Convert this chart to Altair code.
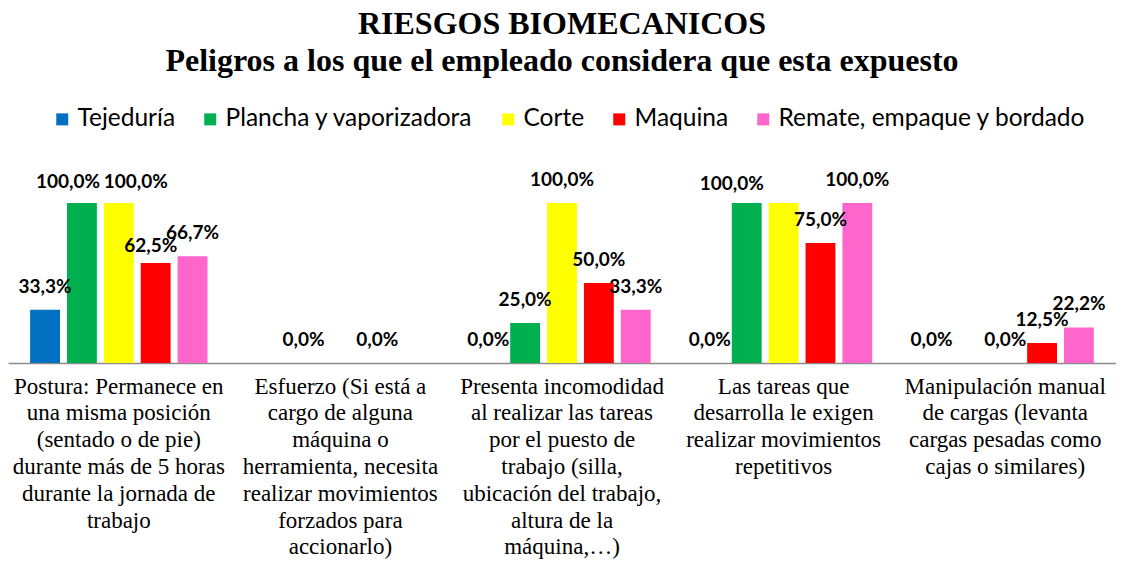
import altair as alt
import pandas as pd

categories = [
    "Postura: Permanece en\nuna misma posición\n(sentado o de pie)\ndurante más de 5 horas\ndurante la jornada de\ntrabajo",
    "Esfuerzo (Si está a\ncargo de alguna\nmáquina o\nherramienta, necesita\nrealizar movimientos\nforzados para\naccionarlo)",
    "Presenta incomodidad\nal realizar las tareas\npor el puesto de\ntrabajo (silla,\nubicación del trabajo,\naltura de la\nmáquina,…)",
    "Las tareas que\ndesarrolla le exigen\nrealizar movimientos\nrepetitivos",
    "Manipulación manual\nde cargas (levanta\ncargas pesadas como\ncajas o similares)",
]

series = ["Tejeduría", "Plancha y vaporizadora", "Corte", "Maquina", "Remate, empaque y bordado"]
colors = ["#0070C0", "#00B050", "#FFFF00", "#FF0000", "#FF66CC"]

tejeduria = [0.333, None, 0.0, 0.0, 0.0]
plancha = [1.0, 0.0, 0.25, 1.0, None]
corte = [1.0, None, 1.0, 1.0, 0.0]
maquina = [0.625, 0.0, 0.5, 0.75, 0.125]
remate = [0.667, None, 0.333, 1.0, 0.222]

# labels shown in the reference (False = bar without label)
corte_label_shown = [True, True, True, False, True]

values = [tejeduria, plancha, corte, maquina, remate]

rows = []
for s, vals in zip(series, values):
    for i, (c, v) in enumerate(zip(categories, vals)):
        if v is None:
            continue
        show = True
        if s == "Corte":
            show = corte_label_shown[i]
        label = (f"{v * 100:.1f}%".replace(".", ",")) if show else ""
        rows.append({"cat": c, "idx": i, "series": s, "value": v, "label": label})
df = pd.DataFrame(rows)

x_enc = alt.X(
    "cat:N",
    sort=categories,
    title=None,
    scale=alt.Scale(paddingInner=0, paddingOuter=0),
    axis=alt.Axis(
        labelExpr="split(datum.label, '\\n')",
        labelAngle=0,
        labelFont="Liberation Serif",
        labelFontSize=23,
        labelLineHeight=26.8,
        labelColor="black",
        labelPadding=12,
        labelLimit=0,
        labelOverlap=False,
        ticks=False,
        domainColor="#8C8C8C",
        domainWidth=1.5,
        grid=False,
    ),
)
xoff = alt.XOffset("series:N", sort=series, scale=alt.Scale(paddingInner=0.19, paddingOuter=0.6))
y_enc = alt.Y("value:Q", scale=alt.Scale(domain=[0, 1]), axis=None)

bars = alt.Chart(df).mark_bar().encode(
    x=x_enc,
    xOffset=xoff,
    y=y_enc,
    color=alt.Color(
        "series:N",
        sort=series,
        scale=alt.Scale(domain=series, range=colors),
        legend=alt.Legend(
            title=None,
            orient="none",
            direction="horizontal",
            legendX=42,
            legendY=-96,
            symbolType="square",
            symbolSize=144,
            symbolStrokeWidth=0,
            labelFont="Lato",
            labelFontSize=24.5,
            labelColor="black",
            labelLimit=0,
            columnPadding=22,
            symbolOffset=0,
            labelOffset=3,
        ),
    ),
)

# label nudges (category index, series, dx, dy) to avoid overlapping labels, as in the reference
nudges = [
    (0, "Plancha y vaporizadora", -14, -21),
    (0, "Corte", 17, -21),
    (0, "Maquina", -5, -17),
    (3, "Plancha y vaporizadora", -15, -19),
]

text_style = dict(font="Lato", fontWeight="bold", fontSize=19, color="black", baseline="middle")


def text_layer(dx, dy, flt):
    return (
        alt.Chart(df)
        .transform_filter(flt)
        .mark_text(dx=dx, dy=dy, **text_style)
        .encode(x=alt.X("cat:N", sort=categories), xOffset=xoff, y=y_enc, text="label:N")
    )


conds = [f"(datum.idx == {i} && datum.series == '{s}')" for i, s, _, _ in nudges]
layers = [bars, text_layer(0, -23, "!(" + " || ".join(conds) + ")")]
for (i, s, dx, dy), c in zip(nudges, conds):
    layers.append(text_layer(dx, dy, c))

chart = (
    alt.layer(*layers)
    .properties(
        width=1108,
        height=160,
        padding={"left": 0, "right": 0, "top": 0, "bottom": 0},
        title=alt.TitleParams(
            text=["RIESGOS BIOMECANICOS", "Peligros a los que el empleado considera que esta expuesto"],
            font="Liberation Serif",
            fontSize=32,
            fontWeight="bold",
            lineHeight=37,
            color="black",
            anchor="middle",
            offset=29,
        ),
    )
    .configure_view(stroke=None)
)

chart.save("out.html", embed_options={"renderer": "svg", "actions": False})
